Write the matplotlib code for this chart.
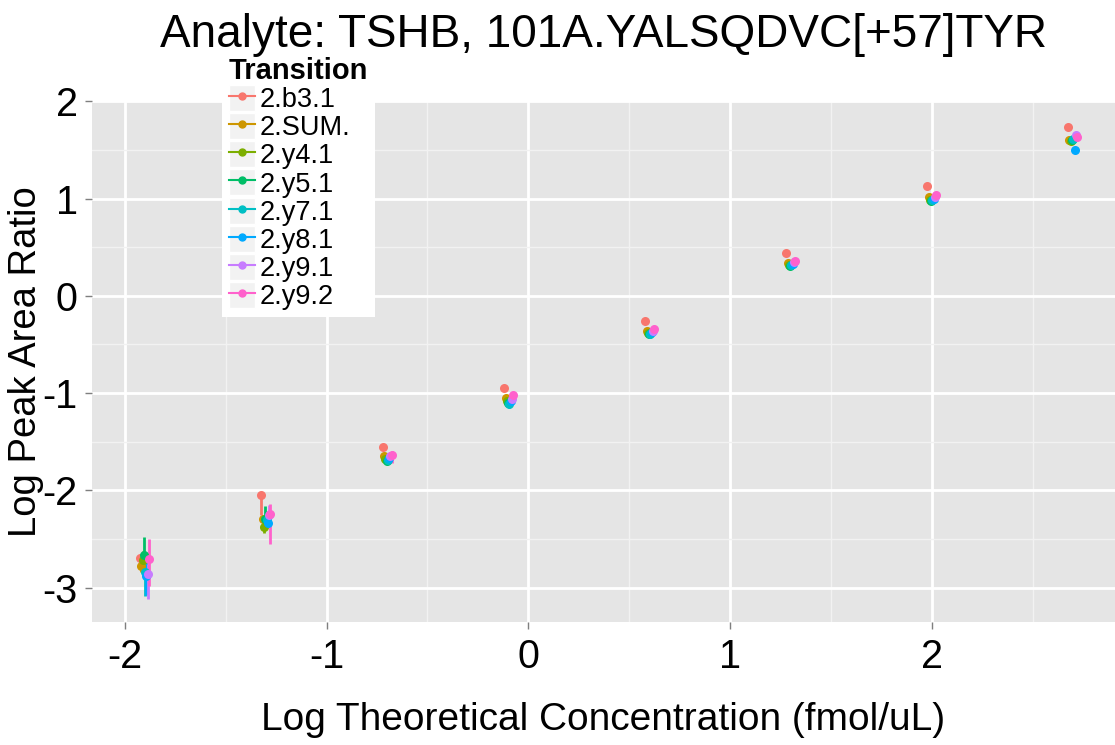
import numpy as np
import matplotlib.pyplot as plt
from matplotlib.lines import Line2D
from matplotlib.patches import Rectangle
from matplotlib.legend_handler import HandlerLine2D

plt.rcParams['font.family'] = ['Liberation Sans', 'DejaVu Sans']

# 理论浓度 (fmol/uL) 与各 transition 的 log 峰面积比
conc = [0.0125, 0.05, 0.2, 0.8, 4, 20, 100, 500]
transitions = ['2.b3.1', '2.SUM.', '2.y4.1', '2.y5.1', '2.y7.1', '2.y8.1', '2.y9.1', '2.y9.2']
colors = ['#F8766D', '#CD9600', '#7CAE00', '#00BE67', '#00BFC4', '#00A9FF', '#C77CFF', '#FF61CC']

log_ratio = [
    [-2.70, -2.05, -1.55, -0.95, -0.26, 0.44, 1.125, 1.74],
    [-2.78, -2.29, -1.65, -1.05, -0.36, 0.335, 1.02, 1.60],
    [-2.72, -2.38, -1.68, -1.08, -0.38, 0.32, 0.99, 1.59],
    [-2.66, -2.30, -1.70, -1.10, -0.395, 0.31, 0.975, 1.60],
    [-2.84, -2.31, -1.69, -1.11, -0.39, 0.315, 0.985, 1.61],
    [-2.88, -2.34, -1.67, -1.08, -0.375, 0.33, 1.00, 1.50],
    [-2.86, -2.25, -1.65, -1.06, -0.36, 0.345, 1.015, 1.655],
    [-2.71, -2.24, -1.64, -1.015, -0.34, 0.355, 1.04, 1.635],
]
# 误差线 (下 / 上)
err_lo = [
    [0.05, 0.20, 0.02, 0.02, 0.01, 0.01, 0.01, 0.01],
    [0.06, 0.06, 0.02, 0.02, 0.01, 0.01, 0.01, 0.01],
    [0.12, 0.06, 0.02, 0.02, 0.01, 0.01, 0.01, 0.01],
    [0.24, 0.05, 0.02, 0.02, 0.01, 0.01, 0.01, 0.01],
    [0.25, 0.05, 0.02, 0.045, 0.01, 0.01, 0.01, 0.01],
    [0.20, 0.04, 0.02, 0.02, 0.01, 0.01, 0.01, 0.01],
    [0.26, 0.05, 0.02, 0.02, 0.01, 0.01, 0.01, 0.01],
    [0.27, 0.31, 0.08, 0.03, 0.01, 0.01, 0.01, 0.01],
]
err_hi = [
    [0.04, 0.03, 0.02, 0.02, 0.01, 0.01, 0.01, 0.01],
    [0.05, 0.04, 0.02, 0.02, 0.01, 0.01, 0.01, 0.01],
    [0.10, 0.05, 0.02, 0.02, 0.01, 0.01, 0.01, 0.01],
    [0.18, 0.14, 0.02, 0.02, 0.01, 0.01, 0.01, 0.01],
    [0.20, 0.04, 0.02, 0.02, 0.01, 0.01, 0.01, 0.01],
    [0.16, 0.04, 0.02, 0.02, 0.01, 0.01, 0.01, 0.01],
    [0.10, 0.10, 0.02, 0.02, 0.01, 0.01, 0.01, 0.01],
    [0.21, 0.10, 0.04, 0.02, 0.01, 0.01, 0.01, 0.01],
]

x = np.log10(conc)
dodge = 0.05
offsets = (np.arange(len(transitions)) - (len(transitions) - 1) / 2) * dodge / len(transitions)

fig = plt.figure(figsize=(11.15, 7.45), dpi=100)
ax = fig.add_axes([0.0822, 0.1655, 1 - 0.0822, 0.864 - 0.1655])
ax.set_facecolor('#E5E5E5')

# 误差线先画, 点画在上面
for i, t in enumerate(transitions):
    y = np.array(log_ratio[i])
    ax.vlines(x + offsets[i], y - np.array(err_lo[i]), y + np.array(err_hi[i]),
              color=colors[i], lw=2, zorder=3)
for i, t in enumerate(transitions):
    ax.plot(x + offsets[i], log_ratio[i], 'o', color=colors[i], ms=6.5, mec='none', zorder=4)

ax.set_xlim(-2.165, 2.909)
ax.set_ylim(-3.351, 2.0)
ax.set_xticks([-2, -1, 0, 1, 2])
ax.set_yticks([-3, -2, -1, 0, 1, 2])
ax.set_xticks(np.arange(-1.5, 3, 1), minor=True)
ax.set_yticks(np.arange(-2.5, 2, 1), minor=True)
ax.set_xticklabels(['-2', '-1', '0', '1', '2'])
ax.set_yticklabels(['-3', '-2', '-1', '0', '1', '2'])
ax.grid(which='major', color='white', lw=2)
ax.grid(which='minor', color='#F2F2F2', lw=1)
ax.set_axisbelow(True)
for s in ax.spines.values():
    s.set_visible(False)
ax.tick_params(which='major', length=5, width=1, color='#7F7F7F', labelsize=28.5, labelcolor='black')
ax.tick_params(axis='x', pad=7)
ax.tick_params(axis='y', pad=5)
ax.tick_params(which='minor', length=0)

ax.set_title('Analyte: TSHB, 101A.YALSQDVC[+57]TYR', fontsize=33, pad=39)
ax.title.set_zorder(10)
ax.set_xlabel('Log Theoretical Concentration (fmol/uL)', fontsize=28)
ax.set_ylabel('Log Peak Area Ratio', fontsize=27.5)
ax.xaxis.set_label_coords(0.5, -0.189)
ax.xaxis.label.set_va('center')
ax.yaxis.set_label_coords(-0.0645, 0.5)
ax.yaxis.label.set_va('center')


class KeyBox(HandlerLine2D):
    # 图例键加灰色底框
    def create_artists(self, legend, orig_handle, xdescent, ydescent, width, height, fontsize, trans):
        box = Rectangle((-xdescent, -ydescent), width, height, facecolor='#F2F2F2',
                        edgecolor='white', lw=1, transform=trans)
        arts = super().create_artists(legend, orig_handle, xdescent, ydescent, width, height, fontsize, trans)
        return [box] + arts


handles = [Line2D([0], [0], color=c, marker='o', lw=1.5, ms=5) for c in colors]
leg = ax.legend(handles, transitions, title='Transition', loc='upper left',
                bbox_to_anchor=(222 / 1115, 1 - 50 / 745), bbox_transform=fig.transFigure,
                fontsize=19.5, title_fontproperties={'weight': 'bold', 'size': 21},
                alignment='left', frameon=True, facecolor='white', edgecolor='none',
                framealpha=1, fancybox=False, handlelength=0.95, handleheight=1.1,
                handletextpad=0.2, labelspacing=0.0, borderpad=0.25, borderaxespad=0,
                numpoints=1, handler_map={Line2D: KeyBox()})
leg.set_zorder(5)

fig.savefig('out.png', dpi=100)
